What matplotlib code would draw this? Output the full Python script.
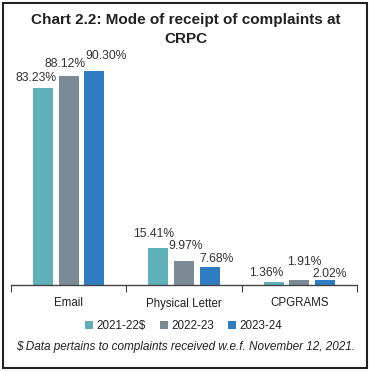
import matplotlib
matplotlib.use("Agg")
import matplotlib.pyplot as plt
from matplotlib.patches import Rectangle, Patch
import numpy as np

categories = ["Email", "Physical Letter", "CPGRAMS"]
series_names = ["2021-22$", "2022-23", "2023-24"]
v_2021_22 = [83.23, 15.41, 1.36]
v_2022_23 = [88.12, 9.97, 1.91]
v_2023_24 = [90.30, 7.68, 2.02]
values = [v_2021_22, v_2022_23, v_2023_24]
colors = ["#5fb0b8", "#7b8a95", "#2f7cc3"]

# label offsets (pixels) to mimic staggered placement
offsets = [
    [(-7, 10), (-5, 14), (-7, 9)],
    [(-4, 12), (2, 15), (5, 18)],
    [(12, 15), (7, 8), (5, 6)],
]

plt.rcParams['font.family'] = ['Liberation Sans', 'DejaVu Sans']

W, H = 371, 372
fig = plt.figure(figsize=(W / 100, H / 100), dpi=100)
fig.patch.set_facecolor("white")

# border
fig.add_artist(Rectangle((3 / W, 4 / H), 364 / W, 365 / H, transform=fig.transFigure,
                         fill=False, edgecolor="#222222", linewidth=1.5))

ax = fig.add_axes([11 / W, 87 / H, 346 / W, 237 / H])
x = np.arange(len(categories))
pitch = 0.222
bw = 0.174
for i, (vals, col) in enumerate(zip(values, colors)):
    xs = x + (i - 1) * pitch
    ax.bar(xs, vals, width=bw, color=col, label=series_names[i])
    for j, (xx, v) in enumerate(zip(xs, vals)):
        dx, dy = offsets[i][j]
        ax.annotate(f"{v:.2f}%", xy=(xx, v), xytext=(dx, dy), textcoords="offset pixels",
                    ha="center", va="center", fontsize=8.7, color="#333333")

ax.set_xlim(-0.5, 2.5)
ax.set_ylim(0, 100)
for s in ["top", "right", "left"]:
    ax.spines[s].set_visible(False)
ax.spines["bottom"].set_color("#444444")
ax.spines["bottom"].set_linewidth(1.0)
ax.set_yticks([])
ax.set_xticks(x)
ax.set_xticklabels(categories, fontsize=8.3, color="#222222")
ax.tick_params(axis="x", which="major", length=0, pad=9)
ax.set_xticks([-0.5, 0.5, 1.5, 2.5], minor=True)
ax.tick_params(axis="x", which="minor", length=5, color="#444444", width=0.8)

fig.text(0.5, 1 - 20 / H, "Chart 2.2: Mode of receipt of complaints at", ha="center", va="center",
         fontsize=11, fontweight="bold", color="#222222")
fig.text(0.5, 1 - 39 / H, "CRPC", ha="center", va="center",
         fontsize=11, fontweight="bold", color="#222222")

handles = [Patch(facecolor=c, edgecolor="none") for c in colors]
fig.legend(handles, series_names, loc="center", bbox_to_anchor=(0.495, 1 - 326 / H), ncol=3,
           frameon=False, fontsize=8.4, handlelength=0.7, handleheight=0.7, handletextpad=0.3,
           columnspacing=1.2, labelcolor="#222222")

fig.text(0.5, 1 - 347 / H, "$ Data pertains to complaints received w.e.f. November 12, 2021.",
         ha="center", va="center", fontsize=8.45, style="italic", color="#222222")

fig.savefig("out.png", dpi=100, facecolor="white")
